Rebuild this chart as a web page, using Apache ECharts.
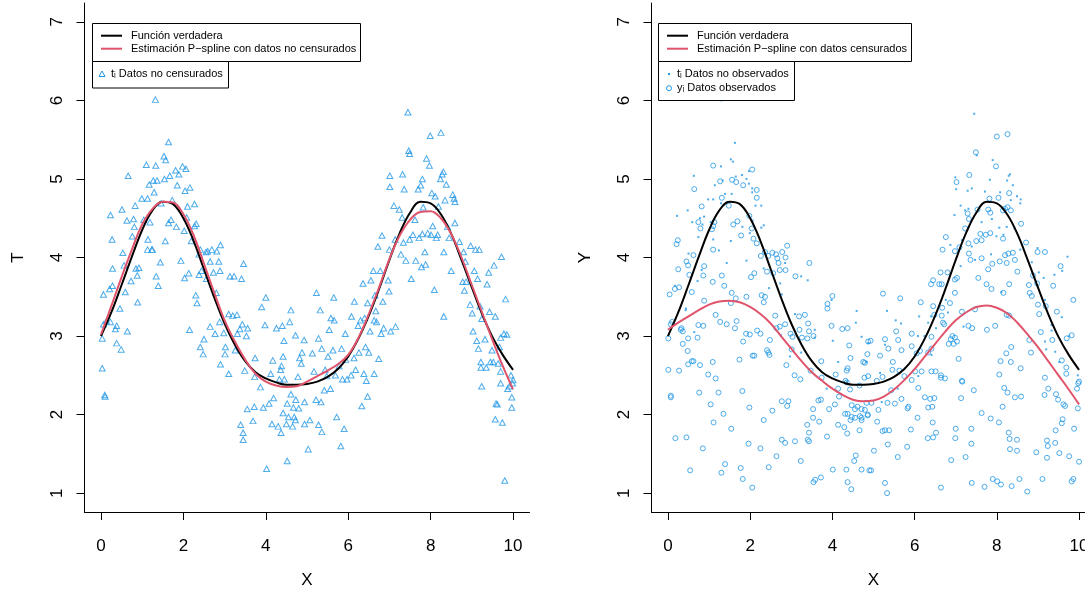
<!DOCTYPE html>
<html><head><meta charset="utf-8">
<script src="https://cdn.jsdelivr.net/npm/echarts@6/dist/echarts.min.js"></script>
<style>html,body{margin:0;padding:0;background:#fff}#c{width:1085px;height:595px}</style>
</head><body><div id="c"></div>
<script>
const curveX = [0,0.25,0.5,0.75,1,1.25,1.5,1.75,2,2.25,2.5,2.75,3,3.25,3.5,3.75,4,4.25,4.5,4.75,5,5.25,5.5,5.75,6,6.25,6.5,6.75,7,7.25,7.5,7.75,8,8.25,8.5,8.75,9,9.25,9.5,9.75,10];
const trueCurve = [3.00,3.30,3.65,4.01,4.35,4.60,4.71,4.68,4.50,4.21,3.85,3.49,3.16,2.89,2.68,2.54,2.46,2.41,2.38,2.38,2.39,2.42,2.48,2.58,2.74,2.97,3.26,3.60,3.97,4.31,4.57,4.71,4.69,4.55,4.30,3.97,3.62,3.28,2.99,2.76,2.57];
const splineUncensored = [3.02,3.38,3.75,4.10,4.42,4.62,4.71,4.70,4.55,4.28,3.92,3.55,3.20,2.93,2.70,2.52,2.42,2.37,2.35,2.36,2.42,2.49,2.56,2.64,2.76,2.98,3.28,3.62,3.98,4.28,4.48,4.58,4.59,4.50,4.30,4.00,3.65,3.30,2.95,2.62,2.32];
const splineCensored = [3.08,3.17,3.25,3.33,3.40,3.44,3.45,3.43,3.37,3.28,3.16,3.00,2.84,2.68,2.54,2.43,2.33,2.25,2.19,2.17,2.18,2.23,2.32,2.44,2.58,2.74,2.90,3.06,3.20,3.30,3.37,3.39,3.36,3.29,3.17,3.02,2.86,2.68,2.50,2.32,2.13];
const xTicks = [0,2,4,6,8,10];
const yTicks = [1,2,3,4,5,6,7];

// left panel: t_i (uncensored data), triangles
const tPoints = [[0.03,2.97],[0.03,2.59],[0.10,2.23],[0.09,2.25],[0.06,3.53],[0.06,3.15],[0.13,3.19],[0.21,3.60],[0.23,4.54],[0.27,4.23],[0.28,3.86],[0.28,3.64],[0.23,3.18],[0.35,3.09],[0.38,3.13],[0.38,2.91],[0.46,3.35],[0.49,2.83],[0.51,4.61],[0.53,4.06],[0.56,3.90],[0.59,3.56],[0.64,3.06],[0.66,5.04],[0.63,4.47],[0.73,3.70],[0.76,4.27],[0.79,4.49],[0.81,4.39],[0.83,4.66],[0.85,3.86],[0.89,3.43],[0.88,3.77],[0.92,3.87],[0.99,4.75],[1.04,4.48],[1.10,5.18],[1.13,4.75],[1.13,4.10],[1.14,4.23],[1.17,4.93],[1.19,4.45],[1.23,4.10],[1.25,4.10],[1.27,4.98],[1.29,4.83],[1.32,6.01],[1.33,5.17],[1.34,3.76],[1.36,4.98],[1.39,3.64],[1.44,3.94],[1.46,4.69],[1.53,5.29],[1.57,5.24],[1.54,5.00],[1.56,4.21],[1.64,5.47],[1.64,4.44],[1.67,5.04],[1.70,4.48],[1.73,4.73],[1.81,5.11],[1.83,4.39],[1.85,4.92],[1.89,5.06],[1.94,3.96],[1.98,5.16],[2.02,4.34],[2.04,4.85],[2.06,5.13],[2.03,3.74],[2.08,4.51],[2.10,4.65],[2.13,3.80],[2.16,4.89],[2.15,3.08],[2.19,4.21],[2.27,4.40],[2.27,4.68],[2.31,4.43],[2.30,3.52],[2.33,3.42],[2.38,4.04],[2.38,3.78],[2.41,4.10],[2.44,3.83],[2.41,2.86],[2.48,2.77],[2.50,2.96],[2.55,4.07],[2.56,3.73],[2.59,4.08],[2.65,3.95],[2.65,3.12],[2.69,4.10],[2.73,3.81],[2.80,3.55],[2.77,3.03],[2.81,4.08],[2.86,3.95],[2.89,3.83],[2.90,4.16],[2.88,3.18],[2.90,2.64],[2.98,3.04],[3.01,2.77],[3.02,2.86],[3.10,2.52],[3.10,3.28],[3.13,3.76],[3.20,3.26],[3.23,3.76],[3.26,2.82],[3.30,3.27],[3.31,3.03],[3.37,3.09],[3.39,1.87],[3.41,3.73],[3.43,3.15],[3.45,1.77],[3.45,1.68],[3.46,3.92],[3.49,2.56],[3.53,3.00],[3.55,2.07],[3.56,3.10],[3.69,1.92],[3.72,2.10],[3.74,2.72],[3.73,2.48],[3.87,2.35],[3.90,3.37],[3.94,2.09],[3.98,3.14],[4.00,3.49],[4.02,1.31],[4.08,2.14],[4.12,2.52],[4.17,2.69],[4.15,1.88],[4.19,2.21],[4.26,3.10],[4.30,1.85],[4.33,2.45],[4.36,2.57],[4.37,1.77],[4.38,2.62],[4.40,3.13],[4.42,2.02],[4.42,2.74],[4.44,2.94],[4.45,2.45],[4.50,1.88],[4.52,2.14],[4.52,1.41],[4.55,1.97],[4.61,3.33],[4.58,3.18],[4.61,2.26],[4.65,1.85],[4.67,2.09],[4.69,1.97],[4.72,1.93],[4.72,3.01],[4.73,2.19],[4.78,2.48],[4.80,2.08],[4.82,2.72],[4.86,2.65],[4.88,2.79],[4.93,2.95],[4.94,1.88],[4.94,2.16],[5.03,1.56],[5.07,1.93],[5.13,2.78],[5.17,2.55],[5.22,2.19],[5.23,3.55],[5.28,2.97],[5.28,1.87],[5.32,3.33],[5.34,2.16],[5.36,1.78],[5.36,2.84],[5.42,2.31],[5.44,2.57],[5.48,2.49],[5.51,2.74],[5.54,3.08],[5.57,2.33],[5.58,3.23],[5.63,2.82],[5.65,3.49],[5.66,3.20],[5.69,2.50],[5.72,1.97],[5.78,2.62],[5.82,1.60],[5.84,2.84],[5.86,2.45],[5.90,1.82],[5.93,3.03],[5.94,2.70],[5.97,2.45],[6.07,2.50],[6.08,3.25],[6.14,2.72],[6.15,3.44],[6.18,2.57],[6.24,3.13],[6.26,2.79],[6.30,3.20],[6.33,2.11],[6.36,3.67],[6.38,2.52],[6.40,3.23],[6.42,2.86],[6.44,2.43],[6.47,2.23],[6.47,3.42],[6.50,2.79],[6.53,3.06],[6.55,3.71],[6.61,3.83],[6.63,3.20],[6.63,2.52],[6.65,3.52],[6.67,3.32],[6.69,3.18],[6.74,2.71],[6.72,4.14],[6.78,3.83],[6.80,3.03],[6.84,3.44],[6.86,3.10],[6.82,4.28],[6.97,3.71],[6.99,3.57],[7.01,5.04],[7.01,4.90],[7.03,3.06],[7.00,4.10],[7.14,4.23],[7.15,3.12],[7.11,4.66],[7.24,4.61],[7.28,4.04],[7.31,4.51],[7.32,5.06],[7.36,4.87],[7.34,4.19],[7.40,3.96],[7.45,5.85],[7.47,5.36],[7.49,5.32],[7.49,4.23],[7.53,3.73],[7.57,4.29],[7.62,4.48],[7.64,3.96],[7.70,4.87],[7.72,4.25],[7.76,4.92],[7.78,3.88],[7.80,4.30],[7.80,5.00],[7.82,4.64],[7.86,4.07],[7.88,3.91],[7.90,5.26],[7.93,4.31],[7.97,5.17],[7.99,5.55],[8.01,4.29],[8.03,4.82],[8.05,4.40],[8.09,3.59],[8.11,4.78],[8.14,4.25],[8.17,4.29],[8.19,4.65],[8.24,5.00],[8.25,5.59],[8.28,5.06],[8.31,5.09],[8.32,3.25],[8.35,4.73],[8.32,4.07],[8.38,4.93],[8.41,4.39],[8.45,4.25],[8.50,3.83],[8.54,4.80],[8.57,4.75],[8.59,4.44],[8.59,4.71],[8.70,4.20],[8.78,3.69],[8.80,4.07],[8.82,3.58],[8.84,3.95],[8.86,3.69],[8.96,3.40],[8.97,4.15],[9.01,3.29],[9.03,3.06],[9.06,3.83],[9.09,4.10],[9.12,2.94],[9.14,3.73],[9.16,2.84],[9.18,4.10],[9.20,3.38],[9.22,2.60],[9.24,2.36],[9.22,2.67],[9.24,3.22],[9.32,2.96],[9.35,2.60],[9.37,3.66],[9.41,3.81],[9.43,3.31],[9.45,2.67],[9.49,2.82],[9.52,2.67],[9.54,3.90],[9.57,3.25],[9.59,2.14],[9.57,1.94],[9.62,2.13],[9.64,2.65],[9.67,2.86],[9.70,2.40],[9.70,2.55],[9.70,2.98],[9.72,4.01],[9.74,1.90],[9.78,3.03],[9.80,1.16],[9.82,3.47],[9.85,3.02],[9.87,2.33],[9.91,2.36],[9.95,2.50],[9.97,2.22],[9.97,2.09],[9.99,2.40],[10.0,2.44]];

// right panel: unobserved t_i (dots)
const tUnobserved = [[1.30,6.00],[1.63,5.46],[1.53,5.25],[1.58,5.22],[1.29,5.16],[0.63,5.04],[1.80,5.05],[1.91,5.00],[1.97,5.10],[1.65,5.03],[1.33,4.98],[1.14,4.92],[1.97,4.94],[2.05,4.88],[2.05,4.83],[1.39,4.81],[0.98,4.74],[1.10,4.74],[1.29,4.69],[2.13,4.66],[2.27,4.66],[1.55,4.81],[0.48,4.60],[0.22,4.53],[0.78,4.50],[0.88,4.52],[0.59,4.45],[1.04,4.45],[0.84,4.42],[1.81,4.39],[2.06,4.47],[2.33,4.41],[2.27,4.38],[1.99,4.31],[0.74,4.26],[1.10,4.23],[1.53,4.21],[1.24,4.09],[0.50,4.05],[1.43,3.93],[1.91,3.96],[2.85,3.93],[2.33,3.86],[2.73,3.67],[0.72,3.70],[0.82,3.84],[3.24,3.76],[3.40,3.71],[2.46,3.61],[2.77,3.53],[0.44,3.35],[0.17,3.64],
[7.45,5.83],[7.51,5.30],[7.90,5.24],[6.99,5.02],[7.01,4.87],[7.29,4.85],[7.39,4.88],[7.83,4.99],[8.25,4.98],[8.29,5.04],[8.32,5.06],[8.39,4.92],[7.71,4.84],[8.08,4.83],[8.34,4.73],[8.49,4.78],[8.58,4.74],[8.57,4.69],[6.97,4.54],[7.12,4.66],[7.23,4.60],[7.31,4.62],[7.63,4.45],[7.88,4.49],[8.06,4.38],[8.16,4.29],[8.24,4.39],[8.43,4.37],[7.99,4.27],[6.87,4.16],[7.15,4.22],[7.39,4.14],[8.57,4.10],[8.85,3.94],[8.99,4.12],[9.72,4.01],[7.86,4.04],[7.47,3.97],[6.76,3.46],[7.12,3.89],[9.02,3.81],[9.40,3.78],[9.59,3.83],[9.14,3.74],[8.11,3.56],
[0.43,3.33],[0.64,3.05],[2.75,3.01],[3.09,3.28],[3.24,2.79],[3.57,3.08],[3.57,2.98],[3.98,3.46],[4.01,2.94],[4.14,2.67],[4.35,2.42],[4.57,3.17],[4.59,3.32],[4.71,2.99],[4.87,2.91],[3.86,2.33],[2.97,2.74],
[5.33,3.32],[5.54,3.20],[5.67,3.16],[6.11,3.25],[6.33,3.17],[6.40,3.25],[6.08,3.00],[6.24,3.00],[6.41,2.76],[5.28,2.89],[5.16,2.53],[5.20,2.16],[4.83,2.67],[5.59,2.33],[6.09,2.49],[6.52,3.10],[6.81,3.30],[7.19,3.12],[9.17,2.93],[9.20,2.83],[9.42,2.80],[9.52,2.67],[9.58,3.24],[9.76,3.00],[9.97,2.50],[9.17,3.46],[9.33,3.07],[9.33,3.14]];

// right panel: observed y_i (circles)
const yObserved = [[1.10,5.17],[2.05,5.12],[0.64,4.87],[1.27,4.97],[1.56,4.99],[1.66,4.96],[1.83,4.92],[2.16,4.86],[2.16,4.76],[1.31,4.76],[0.82,4.65],[1.48,4.66],[1.98,4.53],[0.74,4.45],[0.79,4.37],[1.10,4.40],[1.13,4.45],[1.07,4.36],[1.59,4.42],[1.69,4.46],[1.78,4.28],[2.04,4.37],[2.08,4.24],[2.16,4.18],[0.24,4.22],[0.21,4.17],[1.10,4.10],[0.62,4.03],[2.26,4.02],[2.36,4.07],[2.44,4.02],[2.54,4.06],[2.63,4.04],[2.78,4.07],[2.66,3.99],[2.69,3.93],[2.86,4.00],[2.90,4.15],[0.45,3.95],[0.49,3.90],[0.88,3.89],[0.86,3.77],[0.25,3.85],[1.31,3.77],[1.09,3.69],[1.37,3.64],[0.52,3.78],[2.10,3.80],[2.02,3.75],[2.41,3.82],[2.56,3.80],[2.72,3.84],[2.86,3.84],[3.44,3.93],[3.10,3.76],[0.58,3.56],[0.17,3.60],[0.27,3.62],[0.04,3.53],[1.55,3.55],[0.88,3.45],[1.65,3.48],[1.91,3.50],[2.28,3.52],[2.36,3.50],[2.33,3.43],[3.88,3.41],[4.00,3.51],
[8.00,5.54],[8.26,5.57],[7.49,5.34],[7.98,5.16],[7.33,5.05],[7.02,4.96],[7.82,4.75],[8.04,4.76],[8.30,4.82],[7.29,4.56],[7.32,4.49],[7.53,4.61],[7.79,4.61],[7.84,4.57],[8.20,4.62],[8.26,4.64],[8.34,4.60],[8.15,4.60],[7.23,4.37],[8.59,4.43],[6.76,4.26],[7.60,4.30],[7.73,4.29],[7.84,4.31],[7.50,4.21],[7.63,4.22],[7.31,4.18],[8.15,4.24],[8.71,4.19],[6.68,4.10],[6.98,4.08],[7.09,4.13],[7.32,4.05],[8.20,4.03],[8.28,4.05],[8.39,4.06],[8.99,4.07],[9.17,4.07],[7.36,3.97],[7.63,3.99],[7.89,3.92],[8.07,3.95],[8.24,3.93],[8.44,3.97],[7.79,3.85],[8.50,3.82],[9.55,3.89],[6.63,3.81],[6.80,3.81],[7.55,3.74],[6.45,3.71],[6.40,3.66],[6.60,3.66],[6.66,3.66],[7.03,3.74],[6.98,3.72],[7.75,3.66],[7.87,3.60],[8.30,3.66],[8.78,3.65],[8.88,3.77],[8.98,3.67],[9.37,3.64],[6.98,3.55],[8.16,3.55],[8.80,3.55],[8.85,3.51],[5.23,3.54],[5.65,3.48],[6.15,3.43],[6.45,3.38],[6.67,3.36],[6.86,3.42],[9.00,3.40],[9.19,3.38],[9.86,3.46],
[0.01,2.97],[0.07,3.15],[0.10,3.18],[0.33,3.10],[0.36,3.06],[0.31,3.08],[0.49,2.97],[0.72,2.98],[0.36,2.90],[0.48,2.81],[0.58,2.68],[0.62,2.68],[0.49,2.64],[0.78,2.63],[0.74,3.14],[0.86,3.13],[1.09,2.67],[1.16,3.27],[1.27,3.18],[1.43,3.15],[1.63,3.10],[1.67,3.19],[1.53,3.42],[1.74,2.70],[0.98,2.51],[1.16,2.46],[0.01,2.57],[0.27,2.56],[0.76,2.28],[0.07,2.24],[0.07,2.22],[1.23,2.28],[1.04,2.13],[1.35,2.01],[1.11,1.90],[1.54,1.82],[1.81,2.30],[1.98,2.09],[0.18,1.70],[0.45,1.71],[0.85,1.57],[1.39,1.37],[0.54,1.29],[1.30,1.26],[1.77,1.32],[1.82,1.18],[2.05,1.07],[1.96,1.63],[2.25,1.57],[2.45,1.33],[2.64,1.47],[2.33,1.93],[2.54,2.05],[2.77,2.17],[2.93,2.17],[2.90,2.11],[3.23,1.41],[2.77,1.68],[2.85,1.64],[3.09,1.66],[3.40,1.68],[3.43,1.66],[3.43,1.77],[3.39,1.87],[3.54,1.14],[3.58,1.17],[3.72,1.20],[3.87,1.72],[4.01,1.30],[4.14,1.87],[4.29,1.84],[4.36,1.76],[4.44,1.93],[4.34,1.30],[4.37,1.14],[4.46,1.05],[4.57,1.48],[4.53,1.41],[4.66,1.80],[4.71,1.30],[4.90,1.29],[4.71,1.93],[4.71,1.96],[4.86,2.00],
[1.90,3.03],[1.83,2.93],[1.99,3.02],[2.17,3.07],[2.25,3.03],[2.06,2.75],[2.10,2.75],[2.41,2.82],[2.44,2.79],[2.47,2.76],[2.48,2.95],[2.61,3.26],[2.64,3.10],[2.72,3.12],[2.85,3.15],[2.98,3.03],[3.03,2.99],[3.01,2.83],[3.20,3.08],[3.19,3.25],[3.33,3.27],[3.41,3.16],[3.43,3.06],[3.54,3.00],[3.39,2.97],[3.26,2.98],[2.88,2.63],[3.08,2.50],[3.22,2.45],[3.47,2.56],[3.73,2.68],[3.74,2.47],[3.88,3.35],[3.98,3.13],[4.08,2.51],[4.14,2.33],[4.16,2.23],[4.24,3.09],[4.37,3.10],[4.41,2.88],[4.44,2.72],[4.37,2.59],[4.35,2.56],[4.32,2.43],[4.35,2.41],[4.43,2.32],[4.66,2.37],[4.75,2.67],[4.79,2.66],[4.78,2.47],[4.85,2.77],[4.87,2.93],
[4.47,2.12],[4.55,2.07],[4.71,2.07],[4.79,2.06],[4.61,2.10],[4.67,1.98],[4.55,1.96],[4.47,1.97],[4.37,2.01],[4.31,2.01],[3.72,2.19],[3.66,2.18],[3.53,2.07],[3.53,1.96],[3.68,1.91],[3.92,2.07],[4.06,2.13],
[6.48,3.27],[6.66,3.26],[6.69,3.17],[6.72,3.15],[7.15,3.31],[7.47,3.34],[6.92,3.00],[6.98,2.98],[6.88,2.96],[6.83,2.90],[6.95,2.90],[7.03,2.93],[7.31,3.13],[7.40,3.10],[7.76,3.08],[7.96,3.13],[8.24,3.27],[8.30,3.26],[9.03,3.28],[9.46,3.31],[9.35,2.95],[9.70,2.97],[9.82,3.01],[9.07,3.05],
[4.93,2.94],[5.28,2.96],[5.36,2.84],[5.55,3.06],[5.60,2.95],[5.93,3.03],[5.93,2.87],[5.68,2.82],[6.05,2.78],[6.13,2.81],[6.33,2.79],[6.41,2.84],[6.41,2.99],[5.16,2.75],[5.47,2.67],[5.63,2.56],[5.46,2.57],[5.22,2.48],[5.08,2.43],[4.87,2.49],[5.75,2.49],[6.01,2.55],[6.17,2.55],[6.41,2.55],[6.51,2.55],[6.64,2.50],[6.64,2.47],[6.09,2.34],[5.93,2.44],[5.43,2.31],[5.85,2.10],[5.83,2.08],[5.68,2.20],[6.38,2.20],[6.48,2.21],[6.33,2.09],[6.25,2.22],[4.83,2.15],[4.95,2.15],[5.12,2.06],[5.34,2.15],[5.52,2.14],[4.86,1.99],[7.13,2.21],[7.16,2.42],[7.44,2.31],[7.63,2.02],[7.85,1.95],[8.05,1.90],[8.14,2.10],[8.18,2.34],[8.26,2.28],[8.44,2.22],[8.59,2.23],[8.06,2.51],[8.35,2.86],[8.23,2.78],[8.34,2.67],[8.58,2.59],[8.09,2.68],[8.83,2.79],[8.79,2.95],[9.17,2.47],[9.25,2.33],[9.16,2.25],[9.44,2.26],[9.49,2.19],[9.62,2.13],[9.66,2.11],[9.69,2.60],[9.69,2.52],[9.58,2.69],[10.0,2.42],[9.98,2.40],[9.95,2.33],[9.97,2.08],[9.60,1.94],[9.58,1.89],[9.88,1.82],[9.43,1.80],[9.22,1.67],[9.24,1.60],[9.22,1.45],[9.42,1.64],[9.52,1.51],[9.76,1.47],[10.0,1.40],[8.96,1.52],[9.11,1.18],[9.82,1.15],[9.86,1.18],[8.49,1.68],[8.49,1.54],[8.31,1.69],[8.32,1.56],[8.29,1.77],[8.36,1.09],[8.10,1.11],[8.01,1.15],[7.90,1.18],[8.55,1.18],[8.74,1.02],[7.70,1.08],[7.39,1.13],[7.38,1.82],[7.38,1.63],[7.24,1.46],[7.00,1.82],[6.99,1.70],[6.89,1.42],[6.64,1.07],[6.52,1.77],[6.45,1.71],[6.32,1.70],[5.91,1.81],[6.07,1.96],[5.82,1.59],[5.59,1.46],[5.35,1.62],[5.28,1.80],[5.22,1.79],[5.38,1.80],[5.09,1.91],[5.01,1.54],[4.94,1.29],[5.28,1.13],[5.33,1.00],[6.43,2.10],[6.44,1.90],[7.15,2.43],[7.07,2.71],[6.74,2.46]];

const BLUE = '#2297E6', RED = '#DF536B', F = '"Liberation Sans", Arial, Helvetica, sans-serif';
const chart = echarts.init(document.getElementById('c'), null, {renderer: 'canvas'});
const pair = (xs, ys) => xs.map((x, i) => [x, ys[i]]);

function xAx(gi) {
  return {type: 'value', gridIndex: gi, min: -0.4, max: 10.4, name: 'X', nameLocation: 'middle', nameGap: 60,
    nameTextStyle: {fontSize: 17, color: '#000', fontFamily: F},
    axisLine: {show: true, onZero: false, lineStyle: {color: '#000', width: 1}},
    axisTick: {show: true, customValues: xTicks, length: 8, lineStyle: {color: '#000', width: 1}},
    axisLabel: {customValues: xTicks, fontSize: 17, color: '#000', margin: 26, fontFamily: F, hideOverlap: false},
    splitLine: {show: false}};
}
function yAx(gi, name) {
  return {type: 'value', gridIndex: gi, min: 0.76, max: 7.24, name: name, nameLocation: 'middle', nameGap: 58, nameRotate: 90,
    nameTextStyle: {fontSize: 17, color: '#000', fontFamily: F},
    axisLine: {show: true, onZero: false, lineStyle: {color: '#000', width: 1}},
    axisTick: {show: true, customValues: yTicks, length: 8, lineStyle: {color: '#000', width: 1}},
    axisLabel: {customValues: yTicks, rotate: 90, fontSize: 17, color: '#000', margin: 19, fontFamily: F},
    splitLine: {show: false}};
}
function lineS(gi, data, color) {
  return {type: 'line', xAxisIndex: gi, yAxisIndex: gi, data: data, smooth: 0.4, showSymbol: false, symbol: 'none',
    lineStyle: {color: color, width: 2}, z: 5, silent: true, animation: false};
}
function legendBoxes(x0, boxW, label2, box2W, rows) {
  const g = [];
  g.push({type: 'rect', shape: {x: x0 + 0.5, y: 23.5, width: boxW, height: 38}, style: {fill: '#fff', stroke: '#000', lineWidth: 1}, z: 10});
  g.push({type: 'line', shape: {x1: x0 + 9, y1: 35.7, x2: x0 + 30, y2: 35.7}, style: {stroke: '#000', lineWidth: 2}, z: 11});
  g.push({type: 'line', shape: {x1: x0 + 9, y1: 48.7, x2: x0 + 30, y2: 48.7}, style: {stroke: RED, lineWidth: 2}, z: 11});
  g.push({type: 'text', x: x0 + 39, y: 35.7, style: {text: 'Función verdadera', fontSize: 11, fontFamily: F, fill: '#000', verticalAlign: 'middle'}, z: 11});
  g.push({type: 'text', x: x0 + 39, y: 48.7, style: {text: label2, fontSize: 11, fontFamily: F, fill: '#000', verticalAlign: 'middle'}, z: 11});
  g.push({type: 'rect', shape: {x: x0 + 0.5, y: 61.5, width: box2W, height: rows.length === 1 ? 26.5 : 39}, style: {fill: '#fff', stroke: '#000', lineWidth: 1}, z: 10});
  rows.forEach((r, i) => {
    const y = 74 + i * 14.2;
    if (r.sym === 'tri') {
      g.push({type: 'polygon', shape: {points: [[x0 + 10, y - 3], [x0 + 13, y + 2.5], [x0 + 7, y + 2.5]]}, style: {fill: 'none', stroke: BLUE, lineWidth: 1}, z: 11});
    } else if (r.sym === 'dot') {
      g.push({type: 'rect', shape: {x: x0 + 10, y: y - 1, width: 2, height: 2}, style: {fill: BLUE}, z: 11});
    } else {
      g.push({type: 'circle', shape: {cx: x0 + 11, cy: y, r: 2.5}, style: {fill: 'none', stroke: BLUE, lineWidth: 1}, z: 11});
    }
    g.push({type: 'text', x: x0 + 19, y: y, style: {text: r.text, fontSize: 11, fontFamily: F, fill: '#000', verticalAlign: 'middle'}, z: 11});
  });
  return g;
}

const option = {
  animation: false,
  backgroundColor: '#fff',
  grid: [
    {left: 84.5, top: 3, width: 445, height: 509, outerBoundsMode: 'none', containLabel: false},
    {left: 651.5, top: 3, width: 444, height: 509, outerBoundsMode: 'none', containLabel: false}
  ],
  xAxis: [xAx(0), xAx(1)],
  yAxis: [yAx(0, 'T'), yAx(1, 'Y')],
  series: [
    {type: 'scatter', xAxisIndex: 0, yAxisIndex: 0, data: tPoints, symbol: 'triangle', symbolSize: [6, 5.5],
      itemStyle: {color: 'rgba(0,0,0,0)', borderColor: BLUE, borderWidth: 1}, z: 2, silent: true},
    lineS(0, pair(curveX, trueCurve), '#000'),
    lineS(0, pair(curveX, splineUncensored), RED),
    {type: 'scatter', xAxisIndex: 1, yAxisIndex: 1, data: tUnobserved, symbol: 'rect', symbolSize: 2,
      itemStyle: {color: BLUE}, z: 2, silent: true},
    {type: 'scatter', xAxisIndex: 1, yAxisIndex: 1, data: yObserved, symbol: 'circle', symbolSize: 5,
      itemStyle: {color: 'rgba(0,0,0,0)', borderColor: BLUE, borderWidth: 1}, z: 2, silent: true},
    lineS(1, pair(curveX, trueCurve), '#000'),
    lineS(1, pair(curveX, splineCensored), RED)
  ],
  graphic: [].concat(
    legendBoxes(92, 268, 'Estimación P−spline con datos no censurados', 136, [{sym: 'tri', text: 'tᵢ Datos no censurados'}]),
    legendBoxes(658, 253, 'Estimación P−spline con datos censurados', 136, [{sym: 'dot', text: 'tᵢ Datos no observados'}, {sym: 'circ', text: 'yᵢ Datos observados'}])
  )
};
chart.setOption(option);
</script></body></html>
